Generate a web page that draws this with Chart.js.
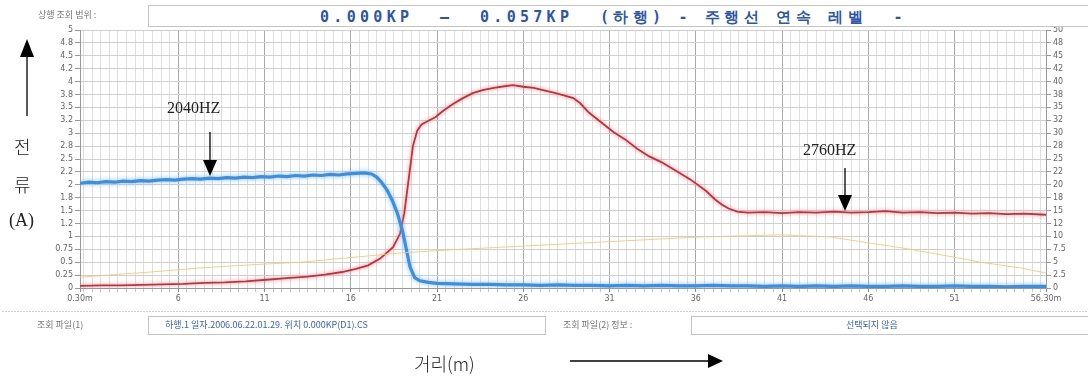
<!DOCTYPE html>
<html>
<head>
<meta charset="utf-8">
<script src="https://cdn.jsdelivr.net/npm/chart.js@4.4.1/dist/chart.umd.min.js"></script>
<style>
  body { margin: 0; background: #fff; }
  #page { position: relative; width: 1088px; height: 381px; overflow: hidden; font-family: "Noto Sans CJK KR", sans-serif; }
  #chart { position: absolute; left: 0; top: 0; }
  .t { position: absolute; white-space: pre; line-height: 1; }
  .small { font-size: 9px; color: #777; }
  .box { position: absolute; border: 1px solid #c4c4c4; background: #fff; box-sizing: border-box; }
  .serif { font-family: "Liberation Serif", "DejaVu Serif", serif; color: #222; }
  .kr { font-family: "Noto Sans CJK KR", sans-serif; color: #222; font-weight: 300; }
  svg { position: absolute; left: 0; top: 0; }
</style>
</head>
<body>
<div id="page">
  <canvas id="chart" width="1088" height="381"></canvas>

  <div class="t small" style="left:38px;top:10px;">상행 조회 범위 :</div>
  <div class="box" style="left:148px;top:5px;width:945px;height:22px;"></div>
  <div class="t" id="title" style="left:320px;top:8px;font:bold 15px 'DejaVu Sans Mono',monospace;letter-spacing:4.3px;color:#2d55a8;">0.000KP  —  0.057KP  (하행) - 주행선 연속 레벨  -</div>

  <div class="t small" style="left:37px;top:320px;">조회 파일(1)</div>
  <div class="box" style="left:148px;top:316px;width:398px;height:19px;"></div>
  <div class="t" style="left:165px;top:320px;font-size:9px;color:#3a62b0;">하행.1 일자.2006.06.22.01.29. 위치 0.000KP(D1).CS</div>
  <div class="t small" style="left:563px;top:320px;">조회 파일(2) 정보 :</div>
  <div class="box" style="left:691px;top:316px;width:402px;height:19px;"></div>
  <div class="t" style="left:846px;top:320px;font-size:9px;color:#3a62b0;">선택되지 않음</div>

  <div class="t serif" style="left:167px;top:100px;font-size:16px;">2040HZ</div>
  <div class="t serif" style="left:803px;top:142px;font-size:16px;">2760HZ</div>
  <div class="t kr" style="left:14px;top:137px;font-size:18px;">전</div>
  <div class="t kr" style="left:14px;top:175px;font-size:18px;">류</div>
  <div class="t serif" style="left:9px;top:211px;font-size:18px;">(A)</div>
  <div class="t kr" style="left:414px;top:354px;font-size:18px;">거리(m)</div>

  <svg width="1088" height="381">
    <line x1="2" y1="311.5" x2="1088" y2="311.5" stroke="#cfcfcf" stroke-width="1" stroke-dasharray="2,1"/>
    <g stroke="#000" stroke-width="1.3" fill="#000">
      <line x1="27" y1="116" x2="27" y2="52"/>
      <polygon points="20,57 34,57 27,39" stroke="none"/>
      <line x1="210" y1="132" x2="210" y2="161"/>
      <polygon points="203,160 217,160 210,176" stroke="none"/>
      <line x1="845" y1="168" x2="845" y2="196"/>
      <polygon points="838,195 852,195 845,211" stroke="none"/>
      <line x1="570" y1="361" x2="710" y2="361"/>
      <polygon points="708,354 708,368 723,361" stroke="none"/>
    </g>
  </svg>
</div>

<script>
// distance (m) and current (A)
const blueX = [0.3, 0.8, 1.3, 1.8, 2.3, 2.8, 3.3, 3.8, 4.3, 4.8, 5.3, 5.8, 6.3, 6.8, 7.3, 7.8, 8.3, 8.8, 9.3, 9.8,
  10.3, 10.8, 11.3, 11.8, 12.3, 12.8, 13.3, 13.8, 14.3, 14.8, 15.3, 15.8, 16.3, 16.8, 17.2, 17.5, 17.8, 18.1, 18.4, 18.7,
  19.0, 19.2, 19.43, 19.7, 20.0, 20.5, 21, 22, 23, 24, 25, 26, 27, 28, 29, 30, 31, 32, 33, 34, 35, 36, 37, 38, 39,
  40, 41, 42, 43, 44, 45, 46, 47, 48, 49, 50, 51, 52, 53, 54, 55, 56.3];
const blueY = [2.03, 2.05, 2.04, 2.06, 2.05, 2.07, 2.06, 2.08, 2.07, 2.09, 2.10, 2.09, 2.11, 2.12, 2.11, 2.13, 2.12, 2.14, 2.13, 2.15,
  2.14, 2.16, 2.15, 2.17, 2.16, 2.18, 2.17, 2.19, 2.18, 2.20, 2.19, 2.21, 2.22, 2.23, 2.21, 2.15, 2.04, 1.90, 1.70, 1.45,
  1.10, 0.78, 0.41, 0.20, 0.14, 0.11, 0.09, 0.08, 0.07, 0.07, 0.06, 0.06, 0.05, 0.06, 0.05, 0.05, 0.04, 0.05, 0.04, 0.05, 0.04, 0.04, 0.05, 0.04, 0.04,
  0.03, 0.04, 0.03, 0.04, 0.03, 0.04, 0.03, 0.03, 0.04, 0.03, 0.03, 0.04, 0.03, 0.03, 0.02, 0.03, 0.03];

const redX = [0.3, 1.5, 2.7, 3.9, 5.1, 6.3, 7.5, 8.7, 9.9, 11.1, 12.3, 13.5, 14.5, 15.5, 16.3, 17.0, 17.7, 18.45, 18.85, 19.1,
  19.35, 19.6, 19.85, 20.1, 20.5, 20.9, 21.3, 21.9, 22.5, 23.1, 23.7, 24.3, 24.9, 25.4, 26.0, 26.6, 27.2, 27.7, 28.3, 28.9,
  29.3, 29.8, 30.4, 31.2, 31.9, 32.6, 33.3, 34.0, 34.8, 35.7, 36.6, 37.1, 37.5, 37.9, 38.4, 39.0, 40, 41, 42, 43, 44, 45,
  46, 47, 48, 49, 50, 51, 52, 53, 54, 55, 56.3];
const redY = [0.04, 0.05, 0.05, 0.06, 0.07, 0.08, 0.10, 0.11, 0.13, 0.16, 0.19, 0.22, 0.26, 0.31, 0.37, 0.44, 0.57, 0.79, 1.05, 1.45,
  2.10, 2.75, 3.05, 3.17, 3.24, 3.31, 3.42, 3.56, 3.68, 3.78, 3.84, 3.88, 3.91, 3.93, 3.90, 3.88, 3.83, 3.79, 3.74, 3.68,
  3.58, 3.40, 3.24, 3.03, 2.88, 2.70, 2.55, 2.44, 2.28, 2.10, 1.88, 1.72, 1.62, 1.54, 1.48, 1.46, 1.47, 1.45, 1.47, 1.46, 1.48, 1.46,
  1.47, 1.49, 1.46, 1.47, 1.45, 1.46, 1.44, 1.45, 1.43, 1.44, 1.42];

const orangeX = [0.3, 4.4, 7.3, 10.2, 13.1, 16.0, 18.9, 21.8, 24.7, 27.6, 30.5, 33.4, 36.3, 38.6, 40.9, 43.8, 46.1, 47.9, 49.6, 51.1, 52.5, 54.8, 56.3];
const orangeY = [0.21, 0.31, 0.39, 0.45, 0.50, 0.59, 0.68, 0.74, 0.79, 0.84, 0.89, 0.94, 0.99, 1.01, 1.03, 0.99, 0.87, 0.78, 0.68, 0.59, 0.50, 0.39, 0.29];

const leftTickLabels = ["0", "0.25", "0.5", "0.75", "1", "1.2", "1.5", "1.8", "2", "2.2", "2.5", "2.8", "3", "3.2", "3.5", "3.8", "4", "4.2", "4.5", "4.8", "5"];
const rightTickLabels = ["0", "2.5", "5", "7.5", "10", "12", "15", "18", "20", "22", "25", "28", "30", "32", "35", "38", "40", "42", "45", "48", "50"];
const xTickValues = [0.3, 6, 11, 16, 21, 26, 31, 36, 41, 46, 51, 56.3];
const xTickLabels = ["0.30m", "6", "11", "16", "21", "26", "31", "36", "41", "46", "51", "56.30m"];

const pts = (xs, ys) => xs.map((x, i) => ({ x: x, y: ys[i] }));
const isMajor = v => xTickValues.some(t => Math.abs(t - v) < 1e-6);

const glow = {
  id: "glow",
  beforeDatasetDraw(chart, args) {
    const ds = chart.data.datasets[args.index];
    chart.ctx.save();
    if (ds.glowColor) {
      chart.ctx.shadowColor = ds.glowColor;
      chart.ctx.shadowBlur = ds.glowBlur;
    }
  },
  afterDatasetDraw(chart) {
    chart.ctx.restore();
  }
};

new Chart(document.getElementById("chart"), {
  type: "line",
  data: {
    datasets: [
      {
        data: pts(orangeX, orangeY),
        borderColor: "rgba(244,196,120,0.85)",
        borderWidth: 1,
        pointRadius: 0
      },
      {
        data: pts(blueX, blueY),
        borderColor: "#3b8fe0",
        borderWidth: 3.2,
        pointRadius: 0,
        glowColor: "rgba(120,180,240,0.9)",
        glowBlur: 5
      },
      {
        data: pts(redX, redY),
        borderColor: "#c2303a",
        borderWidth: 1.8,
        pointRadius: 0,
        glowColor: "rgba(240,120,130,0.9)",
        glowBlur: 4
      }
    ]
  },
  options: {
    responsive: false,
    animation: false,
    layout: { padding: { top: 30, left: 0, right: 0, bottom: 0 } },
    plugins: { legend: { display: false }, tooltip: { enabled: false } },
    scales: {
      x: {
        type: "linear",
        min: 0.3,
        max: 56.3,
        afterBuildTicks: scale => {
          const vals = [0.3, 56.3];
          for (let k = 1; k <= 112; k++) vals.push(k * 0.5);
          scale.ticks = vals.sort((a, b) => a - b).map(v => ({ value: v }));
        },
        afterFit: scale => { scale.height = 93; },
        ticks: {
          autoSkip: false,
          maxRotation: 0,
          minRotation: 0,
          padding: 2,
          color: "#666",
          font: { size: 8, family: "DejaVu Sans" },
          callback: v => {
            const i = xTickValues.findIndex(t => Math.abs(t - v) < 1e-6);
            return i >= 0 ? xTickLabels[i] : "";
          }
        },
        grid: {
          color: c => (c.tick && isMajor(c.tick.value)) ? "#a9a9a9" : "#dedede",
          tickColor: c => (c.tick && isMajor(c.tick.value)) ? "#888" : "#c4c4c4",
          tickLength: 4
        },
        border: { color: "#999" }
      },
      y: {
        position: "left",
        min: 0,
        max: 5,
        afterBuildTicks: scale => {
          scale.ticks = leftTickLabels.map((_, i) => ({ value: i * 0.25 }));
        },
        afterFit: scale => { scale.width = 80; },
        ticks: {
          padding: 2,
          color: "#666",
          font: { size: 8, family: "DejaVu Sans" },
          callback: (v, i) => leftTickLabels[i]
        },
        grid: { color: "#cfcfcf", tickColor: "#999", tickLength: 5 },
        border: { color: "#999" }
      },
      y2: {
        position: "right",
        min: 0,
        max: 50,
        afterBuildTicks: scale => {
          scale.ticks = rightTickLabels.map((_, i) => ({ value: i * 2.5 }));
        },
        afterFit: scale => { scale.width = 42; },
        ticks: {
          padding: 2,
          color: "#666",
          font: { size: 8, family: "DejaVu Sans" },
          callback: (v, i) => rightTickLabels[i]
        },
        grid: { drawOnChartArea: false, tickColor: "#999", tickLength: 5 },
        border: { color: "#999" }
      }
    }
  },
  plugins: [glow]
});
</script>
</body>
</html>
